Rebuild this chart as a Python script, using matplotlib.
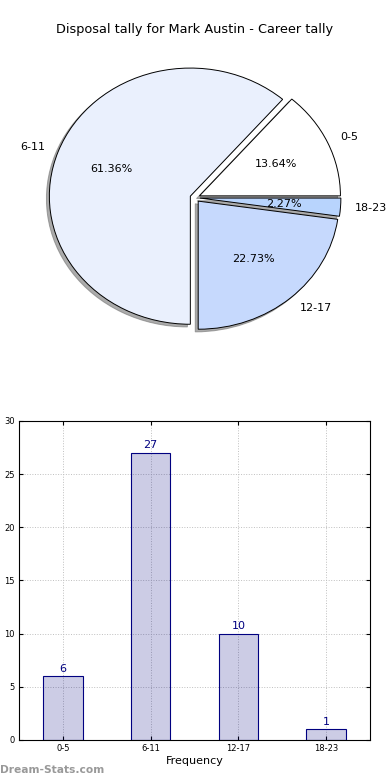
import matplotlib
matplotlib.use('Agg')
import matplotlib.pyplot as plt

# data
categories = ['0-5', '6-11', '12-17', '18-23']
counts = [6, 27, 10, 1]
pie_colors = ['#ffffff', '#eaf0fd', '#c6d9fd', '#b8d4fd']
title = 'Disposal tally for Mark Austin - Career tally'

fig = plt.figure(figsize=(3.9, 7.8), dpi=100)

# pie (old style, not equal aspect)
ax1 = fig.add_axes([0.0119, 0.533, 0.976, 0.427])
wedges, texts, autotexts = ax1.pie(
    counts, labels=categories, colors=pie_colors, autopct='%.2f%%',
    explode=[0.035] * 4, startangle=0, counterclock=True,
    shadow={'ox': -0.015, 'oy': -0.015, 'facecolor': '0.45',
            'edgecolor': '0.45', 'alpha': 0.6},
    wedgeprops={'edgecolor': 'black', 'linewidth': 0.7},
    textprops={'fontsize': 8})
ax1.set_aspect('auto')
ax1.set_xlim(-1.35, 1.35)
ax1.set_ylim(-1.3, 1.3)
ax1.axis('off')
fig.text(0.5, 1 - 30 / 780, title, ha='center', va='center', fontsize=9.3)

# bar chart
ax2 = fig.add_axes([0.0487, 0.0513, 0.9, 0.409])
x = range(len(categories))
ax2.bar(x, counts, width=0.45, color='navy', alpha=0.2, zorder=2)
ax2.bar(x, counts, width=0.45, fill=False, edgecolor='navy', linewidth=0.8, zorder=3)
for i, c in zip(x, counts):
    ax2.text(i, c + 0.25, str(c), ha='center', va='bottom', color='navy', fontsize=8)
ax2.set_xlim(-0.5, 3.5)
ax2.set_ylim(0, 30)
ax2.set_yticks(range(0, 31, 5))
ax2.set_xticks(list(x))
ax2.set_xticklabels(categories)
ax2.tick_params(direction='in', labelsize=6, length=3, top=True, right=True, pad=3)
ax2.grid(True, linestyle=':', color='0.75', linewidth=0.7, zorder=0)
ax2.set_axisbelow(True)
ax2.set_xlabel('Frequency', fontsize=8, labelpad=2)
ax2.set_ylabel('Disposal tally', fontsize=8)

fig.text(0.0, 1 - 770 / 780, 'Dream-Stats.com', ha='left', va='center',
         fontsize=7.7, color='#999999', fontweight='bold')

fig.savefig('out.png', dpi=100)
